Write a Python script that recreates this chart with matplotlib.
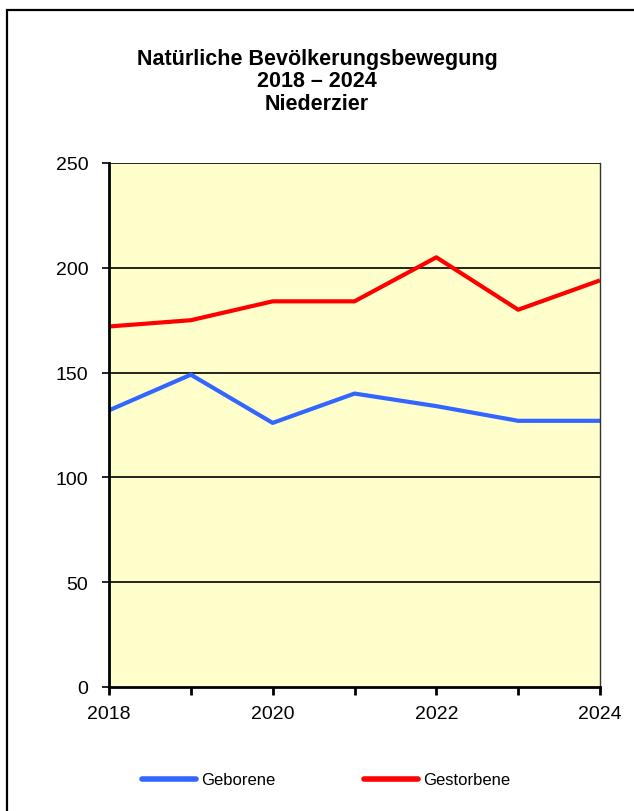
import matplotlib
matplotlib.use("Agg")
import matplotlib.pyplot as plt
from matplotlib.patches import Rectangle

plt.rcParams["font.family"] = ["Liberation Sans", "DejaVu Sans"]

# Daten
jahre = [2018, 2019, 2020, 2021, 2022, 2023, 2024]
geborene = [132, 149, 126, 140, 134, 127, 127]
gestorbene = [172, 175, 184, 184, 205, 180, 194]
y_ticks = [0, 50, 100, 150, 200, 250]
x_labels = [2018, 2020, 2022, 2024]

W, H = 634, 812
fig = plt.figure(figsize=(W / 100, H / 100), dpi=100)
# Rahmen (rechts/unten ausserhalb des Bildes)
fig.patches.append(Rectangle((6.5 / W, -0.05), 1.2, 1 - 10.5 / H + 0.05, transform=fig.transFigure,
                             fill=False, edgecolor="black", linewidth=1.6))

# Plotbereich: x 109..600 px, y 164..688 px
ax = fig.add_axes([109 / W, 1 - 688 / H, (600 - 109) / W, (688 - 164) / H])
ax.set_facecolor("#FFFFCC")

ax.plot(jahre, geborene, color="#3366FF", linewidth=3, label="Geborene", solid_capstyle="butt")
ax.plot(jahre, gestorbene, color="#FF0000", linewidth=3, label="Gestorbene", solid_capstyle="butt")

ax.set_xlim(2018, 2024)
ax.set_ylim(0, 250)
ax.set_yticks(y_ticks)
ax.set_xticks(jahre)
ax.set_xticklabels([str(j) if j in x_labels else "" for j in jahre])
for g in y_ticks[1:]:
    ax.axhline(g, color="black", linewidth=1.2, zorder=1)

ax.spines["left"].set_linewidth(2)
ax.spines["bottom"].set_linewidth(2)
ax.spines["top"].set_visible(False)
ax.spines["right"].set_color("#333333")
ax.spines["right"].set_linewidth(1)
ax.tick_params(axis="y", direction="out", length=5, width=1.2, labelsize=14, pad=10)
ax.tick_params(axis="x", direction="out", length=6, width=2, labelsize=14, pad=7)

# Titel
for txt, ypx in [("Natürliche Bevölkerungsbewegung", 65), ("2018 – 2024", 87), ("Niederzier", 110)]:
    fig.text(0.5, 1 - ypx / H, txt, ha="center", va="baseline", fontsize=15.5, fontweight="bold")

leg = fig.legend(loc="center", bbox_to_anchor=(326 / W, 1 - 781 / H), ncol=2, frameon=False,
                 fontsize=12, handlelength=3.25, handletextpad=0.3, columnspacing=5.3)
for line in leg.get_lines():
    line.set_linewidth(4)
    line.set_solid_capstyle("round")

fig.savefig("out.png", dpi=100)
